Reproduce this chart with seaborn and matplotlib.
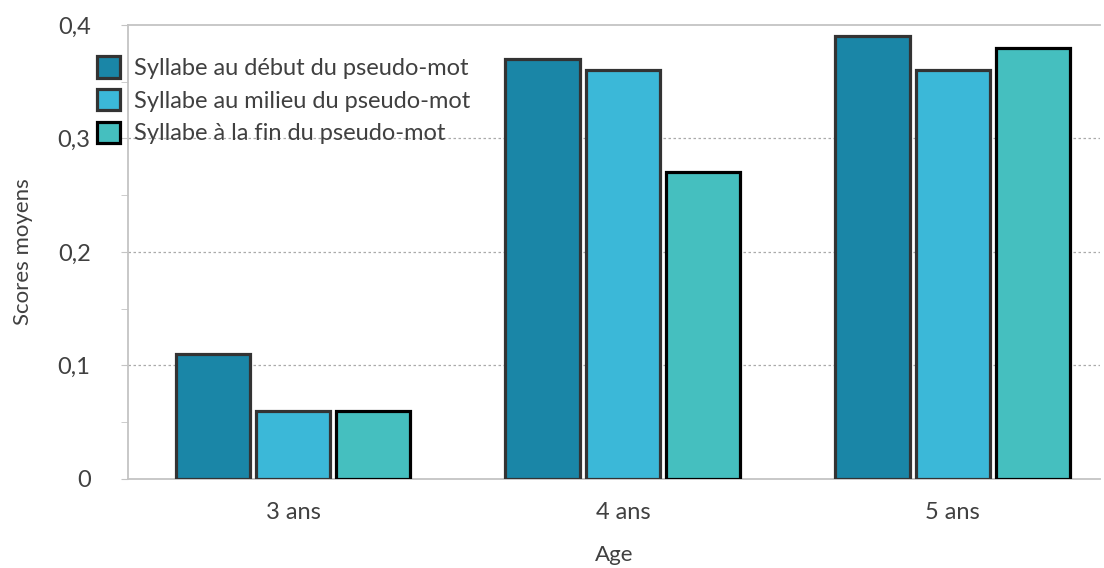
import pandas as pd
import seaborn as sns
import matplotlib.pyplot as plt
from matplotlib.ticker import MultipleLocator

ages = ["3 ans", "4 ans", "5 ans"]
series = ["Syllabe au début du pseudo-mot",
          "Syllabe au milieu du pseudo-mot",
          "Syllabe à la fin du pseudo-mot"]
debut = [0.11, 0.37, 0.39]
milieu = [0.06, 0.36, 0.36]
fin = [0.06, 0.27, 0.38]
yticks = [0, 0.1, 0.2, 0.3, 0.4]
ytick_labels = ["0", "0,1", "0,2", "0,3", "0,4"]

colors = ["#1a86a7", "#3bb8d8", "#45bfbf"]
edges = ["#333333", "#333333", "#000000"]

df = pd.DataFrame({"Age": ages * 3,
                   "Serie": [series[0]] * 3 + [series[1]] * 3 + [series[2]] * 3,
                   "Score": debut + milieu + fin})

sns.set_style("white")
plt.rcParams['font.family'] = ['Lato', 'DejaVu Sans']

fig = plt.figure(figsize=(11.04, 5.68), dpi=100)
ax = fig.add_axes([0.116, 0.157, 0.88, 0.799])

sns.barplot(data=df, x="Age", y="Score", hue="Serie", palette=colors,
            saturation=1, width=0.73, gap=0.075, ax=ax, zorder=3)

# bar edges per series
for cont, ec in zip(ax.containers, edges):
    for bar in cont:
        bar.set_edgecolor(ec)
        bar.set_linewidth(2.3)

ax.set_xlim(-0.5, 2.445)
ax.set_ylim(0, 0.4)
ax.set_yticks(yticks)
ax.set_yticklabels(ytick_labels)
ax.yaxis.set_minor_locator(MultipleLocator(0.05))
for y in yticks[1:-1]:
    ax.axhline(y, color="#aaaaaa", lw=0.9, ls=(0, (2, 2)), zorder=1)

ax.spines["right"].set_visible(False)
for s in ["left", "bottom", "top"]:
    ax.spines[s].set_color("#c4c4c4")
    ax.spines[s].set_linewidth(1.3)

ax.tick_params(axis="y", which="both", left=True, length=5, color="#c4c4c4",
               labelsize=17, labelcolor="#404040", pad=22)
ax.tick_params(axis="x", bottom=False, labelsize=17, labelcolor="#404040", pad=13)

ax.set_xlabel("Age", fontsize=16, color="#404040", labelpad=16)
ax.set_ylabel("Scores moyens", fontsize=16, color="#404040", labelpad=18)

handles, labels = ax.get_legend_handles_labels()
leg = ax.legend(handles, labels, loc="upper left", bbox_to_anchor=(-0.047, 0.962),
                frameon=False, fontsize=17, labelcolor="#404040",
                handlelength=1.0, handleheight=1.0, handletextpad=0.6,
                labelspacing=0.42, borderaxespad=0.2)
for h, ec in zip(leg.legend_handles, edges):
    h.set_edgecolor(ec)
    h.set_linewidth(2.3)

fig.savefig("out.png", dpi=100)
